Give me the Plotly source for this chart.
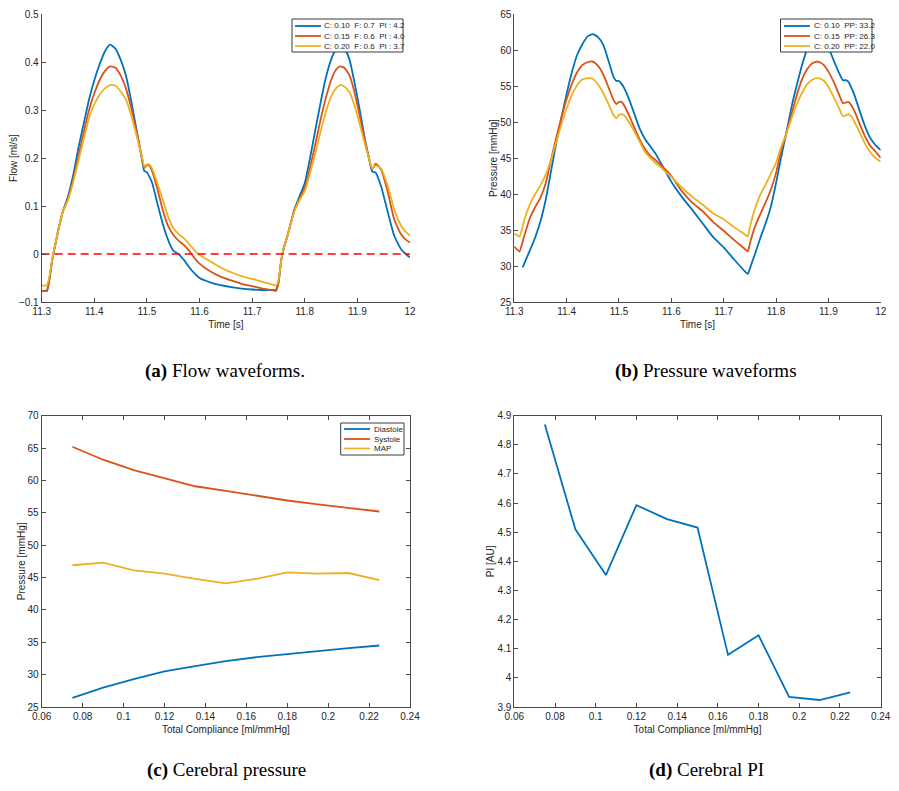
import plotly.graph_objects as go

# ---------------- DATA ----------------
series_colors = ["#0072BD", "#D95319", "#EDB120"]

NB = "\u00a0"
flow_labels = [f"C: 0.10{NB}{NB}F: 0.7{NB}{NB}PI : 4.2", f"C: 0.15{NB}{NB}F: 0.6{NB}{NB}PI : 4.0",
               f"C: 0.20{NB}{NB}F: 0.6{NB}{NB}PI : 3.7"]
pres_labels = [f"C: 0.10{NB}{NB}PP: 33.2", f"C: 0.15{NB}{NB}PP: 26.3", f"C: 0.20{NB}{NB}PP: 22.0"]
cereb_labels = ["Diastole", "Systole", "MAP"]

t_flow = [11.300, 11.305, 11.310, 11.315, 11.320, 11.325, 11.330, 11.340, 11.350, 11.360,
          11.370, 11.380, 11.390, 11.400, 11.410, 11.420, 11.430, 11.440, 11.450, 11.460,
          11.470, 11.480, 11.490, 11.495, 11.500, 11.505, 11.510, 11.520, 11.530, 11.540,
          11.550, 11.560, 11.570, 11.580, 11.590, 11.600, 11.620, 11.640, 11.660, 11.680,
          11.700, 11.720, 11.740, 11.745,
          11.750, 11.755, 11.760, 11.765, 11.770, 11.780, 11.790, 11.800, 11.810, 11.820,
          11.830, 11.840, 11.850, 11.860, 11.867, 11.875, 11.885, 11.895, 11.905, 11.915,
          11.922, 11.928, 11.935, 11.945, 11.958, 11.970, 11.983, 11.992, 12.000]

flow_c010 = [-0.077, -0.077, -0.076, -0.050, -0.012, 0.015, 0.042, 0.088, 0.120, 0.165,
             0.222, 0.272, 0.322, 0.362, 0.395, 0.422, 0.436, 0.428, 0.405, 0.372,
             0.320, 0.260, 0.200, 0.173, 0.170, 0.160, 0.148, 0.105, 0.063, 0.030,
             0.007, 0.000, -0.012, -0.027, -0.040, -0.050, -0.059, -0.065, -0.069, -0.072,
             -0.074, -0.075, -0.075, -0.075,
             -0.060, -0.015, 0.012, 0.030, 0.050, 0.092, 0.120, 0.148, 0.200, 0.258,
             0.315, 0.367, 0.405, 0.428, 0.436, 0.430, 0.405, 0.355, 0.297, 0.235,
             0.200, 0.172, 0.169, 0.141, 0.086, 0.038, 0.010, 0.000, -0.007]

flow_c015 = [-0.077, -0.077, -0.077, -0.050, -0.012, 0.015, 0.042, 0.088, 0.115, 0.155,
             0.205, 0.254, 0.300, 0.335, 0.362, 0.381, 0.391, 0.388, 0.372, 0.345,
             0.305, 0.256, 0.205, 0.180, 0.185, 0.184, 0.172, 0.135, 0.092, 0.059,
             0.040, 0.028, 0.019, 0.007, -0.008, -0.020, -0.036, -0.047, -0.055, -0.062,
             -0.067, -0.072, -0.076, -0.077,
             -0.060, -0.015, 0.012, 0.030, 0.050, 0.090, 0.115, 0.138, 0.180, 0.228,
             0.280, 0.325, 0.362, 0.385, 0.391, 0.388, 0.372, 0.335, 0.285, 0.232,
             0.200, 0.176, 0.188, 0.176, 0.128, 0.072, 0.041, 0.030, 0.024]

flow_c020 = [-0.066, -0.066, -0.065, -0.045, -0.010, 0.015, 0.042, 0.088, 0.112, 0.150,
             0.195, 0.240, 0.284, 0.312, 0.332, 0.345, 0.352, 0.351, 0.339, 0.322,
             0.289, 0.248, 0.205, 0.182, 0.187, 0.186, 0.178, 0.147, 0.113, 0.079,
             0.054, 0.042, 0.033, 0.021, 0.008, -0.002, -0.015, -0.028, -0.038, -0.046,
             -0.052, -0.058, -0.064, -0.066,
             -0.055, -0.015, 0.012, 0.030, 0.050, 0.088, 0.112, 0.131, 0.168, 0.210,
             0.255, 0.296, 0.328, 0.346, 0.352, 0.349, 0.337, 0.308, 0.268, 0.226,
             0.200, 0.178, 0.184, 0.178, 0.141, 0.093, 0.059, 0.046, 0.038]

zero_ref_t = [11.3, 12.0]
zero_ref_v = [0.0, 0.0]

t_pres = [11.300, 11.305, 11.310, 11.316, 11.320, 11.330, 11.340, 11.350, 11.360, 11.370,
          11.380, 11.390, 11.400, 11.410, 11.420, 11.430, 11.440, 11.450, 11.460, 11.470,
          11.480, 11.490, 11.495, 11.500, 11.505, 11.510, 11.520, 11.530, 11.540, 11.550,
          11.560, 11.570, 11.580, 11.590, 11.600, 11.620, 11.640, 11.660, 11.680, 11.700,
          11.720, 11.740, 11.746,
          11.750, 11.755, 11.760, 11.770, 11.780, 11.790, 11.800, 11.810, 11.820, 11.830,
          11.840, 11.850, 11.860, 11.870, 11.880, 11.890, 11.900, 11.910, 11.920, 11.928,
          11.933, 11.938, 11.945, 11.950, 11.960, 11.970, 11.980, 11.990, 12.000]

pres_c010 = [None, None, None, 29.8, 30.5, 32.2, 34.0, 36.2, 39.2, 43.1,
             47.0, 50.6, 53.9, 56.9, 59.3, 60.8, 61.9, 62.2, 61.8, 60.7,
             58.5, 56.2, 55.7, 55.7, 55.3, 54.7, 53.0, 51.0, 49.0, 47.6,
             46.6, 45.6, 44.3, 43.0, 41.7, 39.6, 37.8, 35.9, 34.0, 32.6,
             30.9, 29.3, 28.9,
             29.6, 30.7, 31.7, 33.9, 35.9, 38.2, 41.5, 45.2, 48.6, 52.2,
             55.2, 58.0, 60.2, 61.6, 62.2, 61.9, 60.4, 58.6, 56.9, 55.8,
             55.8, 55.6, 54.6, 53.7, 51.5, 49.4, 47.8, 46.8, 46.1]

pres_c015 = [32.7, 32.3, 32.0, 33.4, 34.4, 36.7, 38.2, 39.5, 41.5, 44.7,
             47.8, 50.6, 53.2, 55.3, 56.9, 57.9, 58.3, 58.4, 57.8, 56.6,
             54.8, 53.0, 52.5, 52.8, 52.8, 52.3, 50.8, 49.1, 47.5, 46.2,
             45.3, 44.7, 44.0, 43.3, 42.5, 40.4, 38.8, 37.6, 36.1, 34.9,
             33.6, 32.4, 32.0,
             33.1, 34.4, 35.5, 37.2, 38.8, 40.6, 42.9, 46.1, 48.5, 51.2,
             53.8, 56.0, 57.4, 58.2, 58.4, 58.0, 57.0, 55.6, 53.9, 52.6,
             52.7, 52.8, 52.2, 51.5, 49.7, 48.0, 46.7, 45.9, 45.0]

pres_c020 = [34.5, 34.3, 34.1, 35.5, 36.6, 38.6, 40.0, 41.2, 42.7, 44.7,
             47.2, 49.7, 51.9, 53.8, 55.1, 55.9, 56.1, 56.0, 55.2, 54.0,
             52.5, 50.9, 50.5, 51.0, 51.1, 50.9, 49.9, 48.6, 47.2, 45.8,
             45.0, 44.3, 43.7, 43.0, 42.4, 40.9, 39.6, 38.5, 37.3, 36.5,
             35.4, 34.4, 34.1,
             35.3, 36.8, 38.0, 39.9, 41.3, 42.8, 44.3, 46.6, 48.4, 50.6,
             52.5, 54.1, 55.3, 55.9, 56.1, 55.8, 54.9, 53.5, 52.0, 50.8,
             50.9, 51.1, 50.7, 50.0, 48.5, 47.0, 45.8, 45.0, 44.5]

compliance = [0.075, 0.090, 0.105, 0.120, 0.135, 0.150, 0.165, 0.180, 0.195, 0.210, 0.225]
diastole = [26.4, 28.0, 29.3, 30.5, 31.3, 32.1, 32.7, 33.2, 33.7, 34.1, 34.5]
systole = [65.2, 63.2, 61.6, 60.3, 59.1, 58.4, 57.6, 56.9, 56.3, 55.7, 55.2]
map_p = [46.9, 47.3, 46.1, 45.6, 44.8, 44.1, 44.8, 45.8, 45.6, 45.7, 44.6]
pi_au = [4.870, 4.510, 4.353, 4.593, 4.545, 4.516, 4.079, 4.146, 3.935, 3.924, 3.950]

for arr in (flow_c010, flow_c015, flow_c020):
    assert len(arr) == len(t_flow), (len(arr), len(t_flow))
for arr in (pres_c010, pres_c015, pres_c020):
    assert len(arr) == len(t_pres), (len(arr), len(t_pres))

# ---------------- FIGURE ----------------
OFF = 8  # the page body adds an 8px margin around the figure
W, H = 899 - 2 * OFF, 791 - 2 * OFF
FONT = "Liberation Sans, Arial, Helvetica, sans-serif"
TXT = "#262626"
AX = "#4a4a4a"


def px(x):
    return min(max((x - OFF) / W, 0.0), 1.0)


def py(y):
    return min(max(1 - (y - OFF) / H, 0.0), 1.0)


fig = go.Figure()

LW = 1.8
WAVE_LINE = dict(width=LW, shape="spline", smoothing=0.5)
for vals, col, lab in zip([flow_c010, flow_c015, flow_c020], series_colors, flow_labels):
    fig.add_trace(go.Scatter(x=t_flow, y=vals, mode="lines", name=lab,
                             line=dict(color=col, **WAVE_LINE), xaxis="x", yaxis="y", showlegend=False))
fig.add_trace(go.Scatter(x=zero_ref_t, y=zero_ref_v, mode="lines",
                         line=dict(color="#FF0000", width=1.6, dash="8px,5px"),
                         xaxis="x", yaxis="y", showlegend=False))

for vals, col, lab in zip([pres_c010, pres_c015, pres_c020], series_colors, pres_labels):
    fig.add_trace(go.Scatter(x=t_pres, y=vals, mode="lines", name=lab,
                             line=dict(color=col, **WAVE_LINE), xaxis="x2", yaxis="y2", showlegend=False))

for vals, col, lab in zip([diastole, systole, map_p], series_colors, cereb_labels):
    fig.add_trace(go.Scatter(x=compliance, y=vals, mode="lines", name=lab,
                             line=dict(color=col, width=LW), xaxis="x3", yaxis="y3", showlegend=False))

fig.add_trace(go.Scatter(x=compliance, y=pi_au, mode="lines", name="PI",
                         line=dict(color=series_colors[0], width=LW), xaxis="x4", yaxis="y4", showlegend=False))

# right column nudged left / top row nudged down so edge tick labels stay on the page
R0, R1 = 514.3, 880.7
TOP = 14.0
dom_x_left = [px(41.7), px(410)]
dom_x_right = [px(R0), px(R1)]
dom_y_top = [py(302), py(TOP)]
dom_y_bot = [py(707), py(415.7)]


def axis(domain, rng, dtick, title, anchor, mirror, standoff):
    return dict(domain=domain, range=rng, dtick=dtick, tick0=rng[0], anchor=anchor,
                automargin=False, ticklabeloverflow="allow",
                showgrid=False, zeroline=False, showline=True, linecolor=AX, linewidth=1,
                ticks="inside", ticklen=4, tickwidth=1, tickcolor=AX,
                tickfont=dict(family=FONT, size=10, color=TXT),
                title=dict(text=title, font=dict(family=FONT, size=10, color=TXT), standoff=standoff),
                mirror=mirror, fixedrange=True)


fig.update_layout(
    width=W, height=H,
    margin=dict(l=0, r=0, t=0, b=0, autoexpand=False),
    paper_bgcolor="white", plot_bgcolor="white",
    showlegend=False,
    xaxis=axis(dom_x_left, [11.3, 12.0], 0.1, "Time [s]", "y", False, 4),
    yaxis=axis(dom_y_top, [-0.1, 0.5], 0.1, "Flow [ml/s]", "x", False, 0),
    xaxis2=axis(dom_x_right, [11.3, 12.0], 0.1, "Time [s]", "y2", False, 4),
    yaxis2=axis(dom_y_top, [25, 65], 5, "Pressure [mmHg]", "x2", False, 0),
    xaxis3=axis(dom_x_left, [0.06, 0.24], 0.02, "Total Compliance [ml/mmHg]", "y3", "ticks", 4),
    yaxis3=axis(dom_y_bot, [25, 70], 5, "Pressure [mmHg]", "x3", "ticks", 0),
    xaxis4=axis(dom_x_right, [0.06, 0.24], 0.02, "Total Compliance [ml/mmHg]", "y4", "ticks", 4),
    yaxis4=axis(dom_y_bot, [3.9, 4.9], 0.1, "PI [AU]", "x4", "ticks", 0),
)

# ---------------- LEGENDS (drawn boxes) ----------------
shapes = []
annots = []


def draw_legend(x0, y0, x1, y1, rows_y, line_x0, line_x1, text_x, labels, colors):
    shapes.append(dict(type="rect", xref="paper", yref="paper",
                       x0=px(x0), x1=px(x1), y0=py(y1), y1=py(y0),
                       line=dict(color="#3a3a3a", width=1), fillcolor="white", layer="above"))
    for ry, lab, col in zip(rows_y, labels, colors):
        shapes.append(dict(type="line", xref="paper", yref="paper",
                           x0=px(line_x0), x1=px(line_x1), y0=py(ry), y1=py(ry),
                           line=dict(color=col, width=1.8), layer="above"))
        annots.append(dict(xref="paper", yref="paper", x=px(text_x), y=py(ry),
                           xanchor="left", yanchor="middle", showarrow=False,
                           text=lab, font=dict(family=FONT, size=8, color=TXT)))


LS = 891.7 - R1  # shift of the right-hand legend
draw_legend(292, 19, 403, 52, [26, 36, 46], 295, 321, 322, flow_labels, series_colors)
draw_legend(791.5 - LS, 19, 883 - LS, 52, [26, 36, 46], 795 - LS, 821 - LS, 822.5 - LS, pres_labels, series_colors)
draw_legend(340.7, 423, 404, 455, [429, 439, 448.5], 344, 370, 371.5, cereb_labels, series_colors)

# ---------------- CAPTIONS ----------------
captions = [("<b>(a)</b> Flow waveforms.", 225, 371),
            ("<b>(b)</b> Pressure waveforms", 706, 371),
            ("<b>(c)</b> Cerebral pressure", 226, 770),
            ("<b>(d)</b> Cerebral PI", 706, 770)]
for txt, cx, cy in captions:
    annots.append(dict(xref="paper", yref="paper", x=px(cx), y=py(cy), xanchor="center", yanchor="middle",
                       showarrow=False, text=txt,
                       font=dict(family="Liberation Serif, Times New Roman, serif", size=19, color="black")))

fig.update_layout(shapes=shapes, annotations=annots)

fig.write_html("out.html")
